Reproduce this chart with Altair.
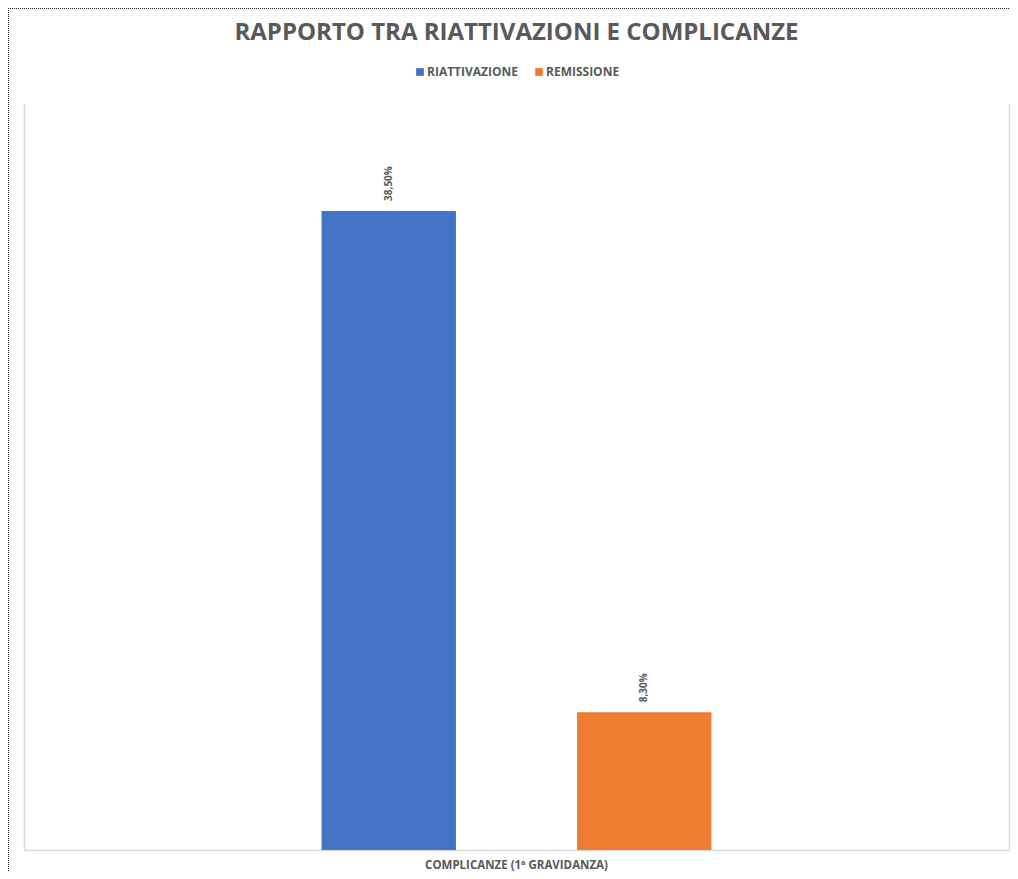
import altair as alt
import pandas as pd

# ---- data ----
series = ["RIATTIVAZIONE", "REMISSIONE"]
values = [38.5, 8.3]
value_labels = ["38,50%", "8,30%"]
category = "COMPLICANZE (1ª GRAVIDANZA)"
chart_title = "RAPPORTO TRA RIATTIVAZIONI E COMPLICANZE"
colors = ["#4472C4", "#ED7D31"]

df = pd.DataFrame({
    "categoria": [category] * len(series),
    "serie": series,
    "valore": values,
    "etichetta": value_labels,
})

W, H = 985, 747
FONT = "Open Sans"
GRAY = "#595959"
FRAME = "#D9D9D9"

x_enc = alt.X(
    "categoria:N",
    scale=alt.Scale(paddingInner=0, paddingOuter=0.263),
    axis=alt.Axis(title=None, labels=True, ticks=False, grid=False,
                  labelFont=FONT, labelFontSize=11.5, labelFontWeight="bold",
                  labelColor=GRAY, labelPadding=9, labelAngle=0, labelLimit=600,
                  domainColor=FRAME, domainWidth=1.5),
)
xoff_enc = alt.XOffset(
    "serie:N", sort=series,
    scale=alt.Scale(domain=series, paddingInner=0.474, paddingOuter=0.5),
)
y_scale = alt.Scale(domain=[0, 45], nice=False, zero=True)

bars = alt.Chart(df).mark_bar().encode(
    x=x_enc,
    xOffset=xoff_enc,
    y=alt.Y("valore:Q", scale=y_scale,
            axis=alt.Axis(orient="left", title=None, labels=False, ticks=False,
                          grid=False, domainColor=FRAME, domainWidth=1.5)),
    color=alt.Color(
        "serie:N",
        sort=series,
        scale=alt.Scale(domain=series, range=colors),
        legend=alt.Legend(
            title=None, orient="none", direction="horizontal",
            legendX=390, legendY=-37,
            symbolType="square", symbolSize=60, symbolStrokeWidth=0,
            labelFont=FONT, labelFontSize=12, labelFontWeight="bold",
            labelColor=GRAY, columnPadding=14, labelOffset=1,
        ),
    ),
)

texts = alt.Chart(df).mark_text(
    angle=270, align="left", baseline="middle", dx=10,
    font=FONT, fontSize=10, fontWeight="bold", color=GRAY,
).encode(
    x=x_enc,
    xOffset=xoff_enc,
    y=alt.Y("valore:Q", scale=y_scale,
            axis=alt.Axis(orient="right", title=None, labels=False, ticks=False,
                          grid=False, domainColor=FRAME, domainWidth=1.5)),
    text="etichetta:N",
)

border_data = alt.Data(values=[{"a": 1}])
left_border = alt.Chart(border_data).mark_rule(
    color="#222222", strokeWidth=1, strokeDash=[1, 1]
).encode(x=alt.value(-15.5), y=alt.value(-95), y2=alt.value(H + 21))
top_border = alt.Chart(border_data).mark_rule(
    color="#222222", strokeWidth=1, strokeDash=[1, 1]
).encode(x=alt.value(-16), x2=alt.value(W + 1), y=alt.value(-94.5))

chart = alt.layer(bars, texts, left_border, top_border).resolve_axis(
    y="independent"
).properties(
    width=W,
    height=H,
    background="white",
    autosize=alt.AutoSizeParams(type="none"),
    padding={"left": 16, "top": 95, "right": 1, "bottom": 21},
    title=alt.TitleParams(
        chart_title, font=FONT, fontSize=24, fontWeight="bold", color=GRAY,
        anchor="middle", offset=-37,
    ),
).configure_view(stroke="transparent", strokeWidth=0, strokeOpacity=0)

chart.save("out.html", embed_options={"renderer": "svg", "actions": False})
